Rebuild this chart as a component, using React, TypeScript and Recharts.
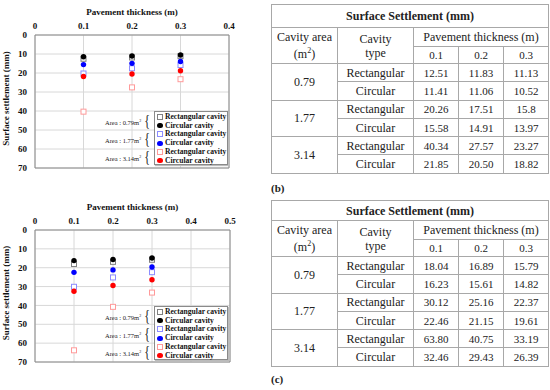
import React from 'react';
import {
  ScatterChart, Scatter, XAxis, YAxis, CartesianGrid, ReferenceArea, Legend,
} from 'recharts';

// ---------- data ----------
const thickness = [0.1, 0.2, 0.3];
const thicknessLabels = ['0.1', '0.2', '0.3'];
const areaLabels = ['0.79', '1.77', '3.14'];
const typeLabels = ['Rectangular', 'Circular'];

const xTicksB = [0, 0.1, 0.2, 0.3, 0.4];
const xTicksC = [0, 0.1, 0.2, 0.3, 0.4, 0.5];
const yTicks = [0, 10, 20, 30, 40, 50, 60, 70];

// panel (b)
const bRect079 = ['12.51', '11.83', '11.13'];
const bCirc079 = ['11.41', '11.06', '10.52'];
const bRect177 = ['20.26', '17.51', '15.8'];
const bCirc177 = ['15.58', '14.91', '13.97'];
const bRect314 = ['40.34', '27.57', '23.27'];
const bCirc314 = ['21.85', '20.50', '18.82'];

// panel (c)
const cRect079 = ['18.04', '16.89', '15.79'];
const cCirc079 = ['16.23', '15.61', '14.82'];
const cRect177 = ['30.12', '25.16', '22.37'];
const cCirc177 = ['22.46', '21.15', '19.61'];
const cRect314 = ['63.80', '40.75', '33.19'];
const cCirc314 = ['32.46', '29.43', '26.39'];

const seriesColors = ['#808080', '#000000', '#8c8cff', '#0000ff', '#ff9a9a', '#ff0000'];

const toPoints = (vals: string[]) => thickness.map((x, i) => ({ x, y: Number(vals[i]) }));

const rowsB = [bRect079, bCirc079, bRect177, bCirc177, bRect314, bCirc314];
const rowsC = [cRect079, cCirc079, cRect177, cCirc177, cRect314, cCirc314];
const pointsB = rowsB.map(toPoints);
const pointsC = rowsC.map(toPoints);

const SERIF = '"Liberation Serif", "Times New Roman", serif';

const makeSquare = (color: string) => (p: any) => (
  <rect x={p.cx - 2.5} y={p.cy - 2.5} width={5} height={5} fill="#fff" stroke={color} strokeWidth={1} />
);
const makeCircle = (color: string) => (p: any) => (
  <circle cx={p.cx} cy={p.cy} r={2.7} fill={color} />
);
const shapes = seriesColors.map((c, i) => (i % 2 === 0 ? makeSquare(c) : makeCircle(c)));

const tickStyle = { fontSize: 9, fontWeight: 'bold', fontFamily: SERIF, fill: '#111' };
const xLabel = { value: 'Pavement thickness (m)', position: 'insideTop', offset: 4, style: tickStyle };
const YLabelContent = (p: any) => {
  const vb = p.viewBox || {};
  const cx = 6;
  const cy = vb.y + vb.height / 2 - 3;
  return (
    <text x={cx} y={cy} transform={`rotate(-90 ${cx} ${cy})`} textAnchor="middle" dominantBaseline="central"
      style={tickStyle}>
      Surface settlement (mm)
    </text>
  );
};
const yLabel = { content: YLabelContent };

const legendEntries = [
  { label: 'Rectangular cavity', color: seriesColors[0], sq: true },
  { label: 'Circular cavity', color: seriesColors[1], sq: false },
  { label: 'Rectangular cavity', color: seriesColors[2], sq: true },
  { label: 'Circular cavity', color: seriesColors[3], sq: false },
  { label: 'Rectangular cavity', color: seriesColors[4], sq: true },
  { label: 'Circular cavity', color: seriesColors[5], sq: false },
];

const LegendBox = () => (
  <div style={{ position: 'relative', width: 126, height: 56, fontFamily: SERIF }}>
    {areaLabels.map((a, i) => (
      <div key={a} style={{ position: 'absolute', left: 0, top: 2 + i * 18, height: 18, display: 'flex', alignItems: 'center' }}>
        <span style={{ fontSize: 6.5, color: '#222', whiteSpace: 'nowrap' }}>
          Area : {a}m<sup style={{ fontSize: 4 }}>2</sup>
        </span>
        <span style={{ fontSize: 17, lineHeight: '18px', marginLeft: 2, color: '#222', transform: 'scaleX(0.7)' }}>{'{'}</span>
      </div>
    ))}
    <div style={{
      position: 'absolute', left: 49, top: 0, width: 74, height: 54, border: '1px solid #8a8a8a',
      background: '#fff', boxShadow: '1px 1px 1px #bbb', boxSizing: 'border-box', paddingTop: 0.5,
    }}>
      {legendEntries.map((e, i) => (
        <div key={i} style={{ height: 8.8, display: 'flex', alignItems: 'center', whiteSpace: 'nowrap' }}>
          <span style={{ width: 8, height: 8, marginLeft: 1, marginRight: 1, flex: 'none', display: 'flex', alignItems: 'center', justifyContent: 'center' }}>
            <span style={e.sq
              ? { display: 'block', width: 4, height: 4, border: `1px solid ${e.color}`, background: '#fff' }
              : { display: 'block', width: 5.2, height: 5.2, borderRadius: '50%', background: e.color }} />
          </span>
          <span style={{ fontSize: 7.6, fontWeight: 'bold', color: '#111', lineHeight: '8px' }}>{e.label}</span>
        </div>
      ))}
    </div>
  </div>
);
const legendContent = () => <LegendBox />;

const marginB = { top: 5, right: 41, bottom: 22, left: 5 };
const marginC = { top: 10, right: 40, bottom: 18, left: 5 };
const domainB = [0, 0.4];
const domainC = [0, 0.5];
const yDomain = [0, 70];
const legendStyleB = { left: 105, top: 111, width: 126, height: 56 };
const legendStyleC = { left: 105, top: 116, width: 126, height: 56 };

type PanelProps = {
  series: { x: number; y: number }[][];
  xDomain: number[];
  xTicks: number[];
  top: number;
  margin: { top: number; right: number; bottom: number; left: number };
  legendStyle: any;
};

const Panel = ({ series, xDomain, xTicks, top, margin, legendStyle }: PanelProps) => (
  <div style={{ position: 'absolute', left: 0, top }}>
    <ScatterChart width={270} height={190} margin={margin}>
      <CartesianGrid stroke="#d8d8d8" />
      <XAxis
        type="number" dataKey="x" orientation="top" domain={xDomain} ticks={xTicks}
        height={30} axisLine={false} tickLine={false} tickSize={4} tickMargin={2}
        tick={tickStyle} interval={0} label={xLabel}
      />
      <YAxis
        type="number" dataKey="y" reversed domain={yDomain} ticks={yTicks} width={30}
        axisLine={false} tickLine={false} tickSize={4} tickMargin={4} tick={tickStyle} interval={0}
        label={yLabel}
      />
      <ReferenceArea x1={xDomain[0]} x2={xDomain[1]} y1={yDomain[0]} y2={yDomain[1]} fill="none" stroke="#8a8a8a" strokeWidth={1} />
      {series.map((pts, i) => (
        <Scatter
          key={i}
          data={pts}
          isAnimationActive={false}
          fill={seriesColors[i]}
          shape={shapes[i]}
        />
      ))}
      <Legend
        layout="horizontal" verticalAlign="middle" align="center"
        wrapperStyle={legendStyle}
        content={legendContent}
      />
    </ScatterChart>
  </div>
);

const cell: React.CSSProperties = {
  border: '1px solid #a8a8a8', padding: 0, textAlign: 'center', verticalAlign: 'middle',
  fontFamily: SERIF, fontSize: 12, color: '#222', lineHeight: '14px',
};
const num: React.CSSProperties = { ...cell, fontSize: 11 };

type TableProps = { rows: string[][]; top: number; titleH: number; label: string; labelTop: number };

const SettlementTable = ({ rows, top, titleH, label, labelTop }: TableProps) => (
  <div style={{ position: 'absolute', left: 271, top }}>
    <table style={{ borderCollapse: 'collapse', tableLayout: 'fixed', width: 277 }}>
      <colgroup>
        <col style={{ width: 66 }} />
        <col style={{ width: 76 }} />
        <col style={{ width: 45 }} />
        <col style={{ width: 45 }} />
        <col style={{ width: 45 }} />
      </colgroup>
      <tbody>
        <tr style={{ height: titleH }}>
          <td colSpan={5} style={{ ...cell, fontWeight: 'bold' }}>Surface Settlement (mm)</td>
        </tr>
        <tr style={{ height: 19 }}>
          <td rowSpan={2} style={cell}>Cavity area<br />(m<sup style={{ fontSize: 8 }}>2</sup>)</td>
          <td rowSpan={2} style={cell}>Cavity<br />type</td>
          <td colSpan={3} style={cell}>Pavement thickness (m)</td>
        </tr>
        <tr style={{ height: 17 }}>
          {thicknessLabels.map((t) => <td key={t} style={num}>{t}</td>)}
        </tr>
        {rows.map((r, i) => (
          <tr key={i} style={{ height: 18.3 }}>
            {i % 2 === 0 && <td rowSpan={2} style={cell}>{areaLabels[i / 2]}</td>}
            <td style={cell}>{typeLabels[i % 2]}</td>
            {r.map((v, j) => <td key={j} style={num}>{v}</td>)}
          </tr>
        ))}
      </tbody>
    </table>
    <div style={{ position: 'absolute', left: 0, top: labelTop, fontFamily: SERIF, fontSize: 11, fontWeight: 'bold', color: '#222' }}>
      {label}
    </div>
  </div>
);

export default function App() {
  return (
    <div style={{ position: 'absolute', left: 0, top: 0, width: 550, height: 390, background: '#fff', overflow: 'hidden' }}>
      <Panel series={pointsB} xDomain={domainB} xTicks={xTicksB} top={0} margin={marginB} legendStyle={legendStyleB} />
      <Panel series={pointsC} xDomain={domainC} xTicks={xTicksC} top={190} margin={marginC} legendStyle={legendStyleC} />
      <SettlementTable rows={rowsB} top={4} titleH={23} label="(b)" labelTop={178} />
      <SettlementTable rows={rowsC} top={200} titleH={20} label="(c)" labelTop={173} />
    </div>
  );
}
